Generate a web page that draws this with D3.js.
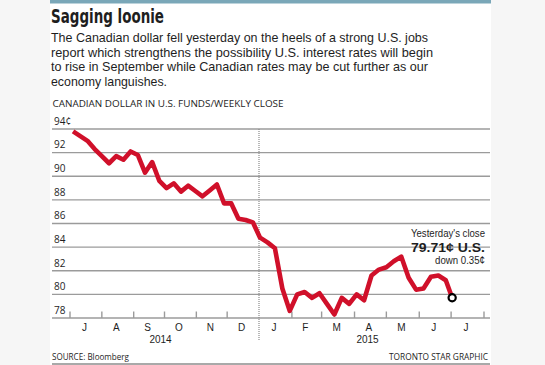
<!DOCTYPE html>
<html><head><meta charset="utf-8">
<script src="https://cdn.jsdelivr.net/npm/d3@7"></script>
<style>
html,body{margin:0;padding:0;background:#f6f6f6;}
svg{display:block;}
text{font-family:"Open Sans","Noto Sans",sans-serif;fill:#1e1e1e;}
.tight{font-family:"Liberation Sans","Arial",sans-serif;}
</style></head>
<body>
<svg id="chart" width="545" height="365"></svg>
<script>
// ---- data ----
const title = "Sagging loonie";
const introLines = [
  "The Canadian dollar fell yesterday on the heels of a strong U.S. jobs",
  "report which strengthens the possibility U.S. interest rates will begin",
  "to rise in September while Canadian rates may be cut further as our",
  "economy languishes."
];
const subtitle = "CANADIAN DOLLAR IN U.S. FUNDS/WEEKLY CLOSE";
const weekDates = [
  "2014-07-04","2014-07-11","2014-07-18","2014-07-25","2014-08-01","2014-08-08","2014-08-15","2014-08-22","2014-08-29",
  "2014-09-05","2014-09-12","2014-09-19","2014-09-26","2014-10-03","2014-10-10","2014-10-17","2014-10-24","2014-10-31",
  "2014-11-07","2014-11-14","2014-11-21","2014-11-28","2014-12-05","2014-12-12","2014-12-19","2014-12-26",
  "2015-01-02","2015-01-09","2015-01-16","2015-01-23","2015-01-30","2015-02-06","2015-02-13","2015-02-20","2015-02-27",
  "2015-03-06","2015-03-13","2015-03-20","2015-03-27","2015-04-03","2015-04-10","2015-04-17","2015-04-24",
  "2015-05-01","2015-05-08","2015-05-15","2015-05-22","2015-05-29","2015-06-05","2015-06-12","2015-06-19","2015-06-26","2015-07-02"
];
const weeklyClose = [
  93.8,93.4,93.0,92.3,91.7,91.1,91.7,91.4,92.1,
  91.8,90.3,91.2,89.6,89.0,89.4,88.7,89.2,88.75,
  88.3,88.8,89.3,87.7,87.7,86.4,86.3,86.1,
  84.8,84.4,83.9,80.5,78.6,80.0,80.2,79.7,80.1,
  79.2,78.3,79.7,79.2,80.0,79.5,81.6,82.1,
  82.3,82.8,83.2,81.4,80.4,80.5,81.5,81.6,81.2,79.71
];
const yTicks = [78,80,82,84,86,88,90,92,94];
const monthLabels = ["J","A","S","O","N","D","J","F","M","A","M","J","J"];
const yearLabels = [{year:"2014", from:"2014-07-01", to:"2015-01-01"},{year:"2015", from:"2015-01-01", to:"2015-08-01"}];
const annotation = {line1:"Yesterday's close", line2:"79.71\u00a2 U.S.", line3:"down 0.35\u00a2"};
const source = "SOURCE: Bloomberg";
const credit = "TORONTO STAR GRAPHIC";

// ---- layout ----
const panelL = 50, panelR = 491;
const plotL = 52, plotR = 490;
const parse = d3.timeParse("%Y-%m-%d");
const data = weekDates.map((d,i)=>({date:parse(d), v:weeklyClose[i]}));

const svg = d3.select("#chart");
svg.append("rect").attr("x",panelL).attr("y",0).attr("width",panelR-panelL).attr("height",365).attr("fill","#fff");
svg.append("rect").attr("x",panelL).attr("y",0).attr("width",panelR-panelL).attr("height",3.5).attr("fill","#7aa7b8");

// Title & intro
svg.append("text").attr("x",51).attr("y",23).text(title)
  .style("font-family","'Liberation Sans Narrow','DejaVu Sans Condensed','Roboto',sans-serif")
  .style("font-weight","bold").style("font-size","20px")
  .attr("textLength",113).attr("lengthAdjust","spacingAndGlyphs");
const introW = [377, 382, 377, 116];
introLines.forEach((l,i)=>{
  svg.append("text").attr("class","tight").attr("x",51).attr("y",41.7+i*14.8).text(l)
    .style("font-size","12.8px").attr("textLength",introW[i]).attr("lengthAdjust","spacingAndGlyphs");
});
svg.append("text").attr("x",52.5).attr("y",106.5).text(subtitle)
  .style("font-size","9.6px").attr("textLength",231).attr("lengthAdjust","spacingAndGlyphs");

// scales
const x = d3.scaleTime()
  .domain([parse("2014-07-01"), parse("2015-01-01"), parse("2015-08-01")])
  .range([70, 259, 484]);
const y = d3.scaleLinear().domain([78,94]).range([318,129]);

// gridlines
const g = svg.append("g");
g.selectAll("line.grid").data(yTicks).join("line")
  .attr("x1",plotL).attr("x2",plotR).attr("y1",d=>y(d)).attr("y2",d=>y(d))
  .attr("stroke","#9b9b9b").attr("stroke-width",1.4);
g.selectAll("text.ylab").data(yTicks).join("text")
  .attr("x",54).attr("y",d=>y(d)-4.2).text(d=>d===94? d+"\u00a2" : d)
  .style("font-size","10px");

// x ticks (month starts)
const months = d3.timeMonth.range(parse("2014-07-01"), parse("2015-08-02"));
const tickMonths = months.filter(m => +m !== +parse("2015-01-01"));
g.selectAll("line.xt").data(tickMonths).join("line")
  .attr("x1",d=>x(d)).attr("x2",d=>x(d)).attr("y1",y(78)).attr("y2",y(78)-6.5)
  .attr("stroke","#9b9b9b").attr("stroke-width",1.4);
const labelMonths = months.slice(0, months.length-1);
g.selectAll("text.ml").data(labelMonths).join("text").attr("class","tight")
  .attr("x",(d,i)=>(x(d)+x(months[i+1]))/2 - 1.5).attr("y",331)
  .attr("text-anchor","middle").text((d,i)=>monthLabels[i]).style("font-size","10px");
g.selectAll("text.yl").data(yearLabels).join("text").attr("class","tight")
  .attr("x",d=>(x(parse(d.from))+x(parse(d.to)))/2 - 4).attr("y",343.2)
  .attr("text-anchor","middle").text(d=>d.year).style("font-size","10px");

// divider (year boundary)
svg.append("line").attr("x1",x(parse("2015-01-01"))).attr("x2",x(parse("2015-01-01")))
  .attr("y1",y(94)).attr("y2",340).attr("stroke","#8a8a8a").attr("stroke-width",1.2)
  .attr("stroke-dasharray","1,1");

// line
const line = d3.line().x(d=>x(d.date)).y(d=>y(d.v)).curve(d3.curveLinear);
svg.append("path").datum(data).attr("d",line).attr("fill","none")
  .attr("stroke","#d0102a").attr("stroke-width",4.6).attr("stroke-linejoin","round").attr("stroke-linecap","butt");

const last = data[data.length-1];
svg.append("circle").attr("cx",x(last.date)).attr("cy",y(last.v)).attr("r",3.6)
  .attr("fill","#fff").attr("stroke","#000").attr("stroke-width",2.2);

// annotation
const ax = 485;
svg.append("text").attr("class","tight").attr("x",ax).attr("y",236.5).attr("text-anchor","end").text(annotation.line1)
  .style("font-size","10.5px").attr("textLength",74).attr("lengthAdjust","spacingAndGlyphs");
svg.append("text").attr("class","tight").attr("x",ax).attr("y",252).attr("text-anchor","end").text(annotation.line2)
  .style("font-size","13.5px").style("font-weight","bold").attr("textLength",74).attr("lengthAdjust","spacingAndGlyphs");
svg.append("text").attr("class","tight").attr("x",ax).attr("y",264.2).attr("text-anchor","end").text(annotation.line3)
  .style("font-size","10px").attr("textLength",50).attr("lengthAdjust","spacingAndGlyphs");

// footer
svg.append("text").attr("x",52).attr("y",360).text(source).style("font-size","9.5px")
  .attr("textLength",77).attr("lengthAdjust","spacingAndGlyphs");
svg.append("text").attr("x",488).attr("y",360).attr("text-anchor","end").text(credit).style("font-size","9.5px")
  .attr("textLength",99).attr("lengthAdjust","spacingAndGlyphs");
svg.append("line").attr("x1",plotL).attr("x2",plotR).attr("y1",364).attr("y2",364).attr("stroke","#555").attr("stroke-width",1.2);
</script>
</body></html>
